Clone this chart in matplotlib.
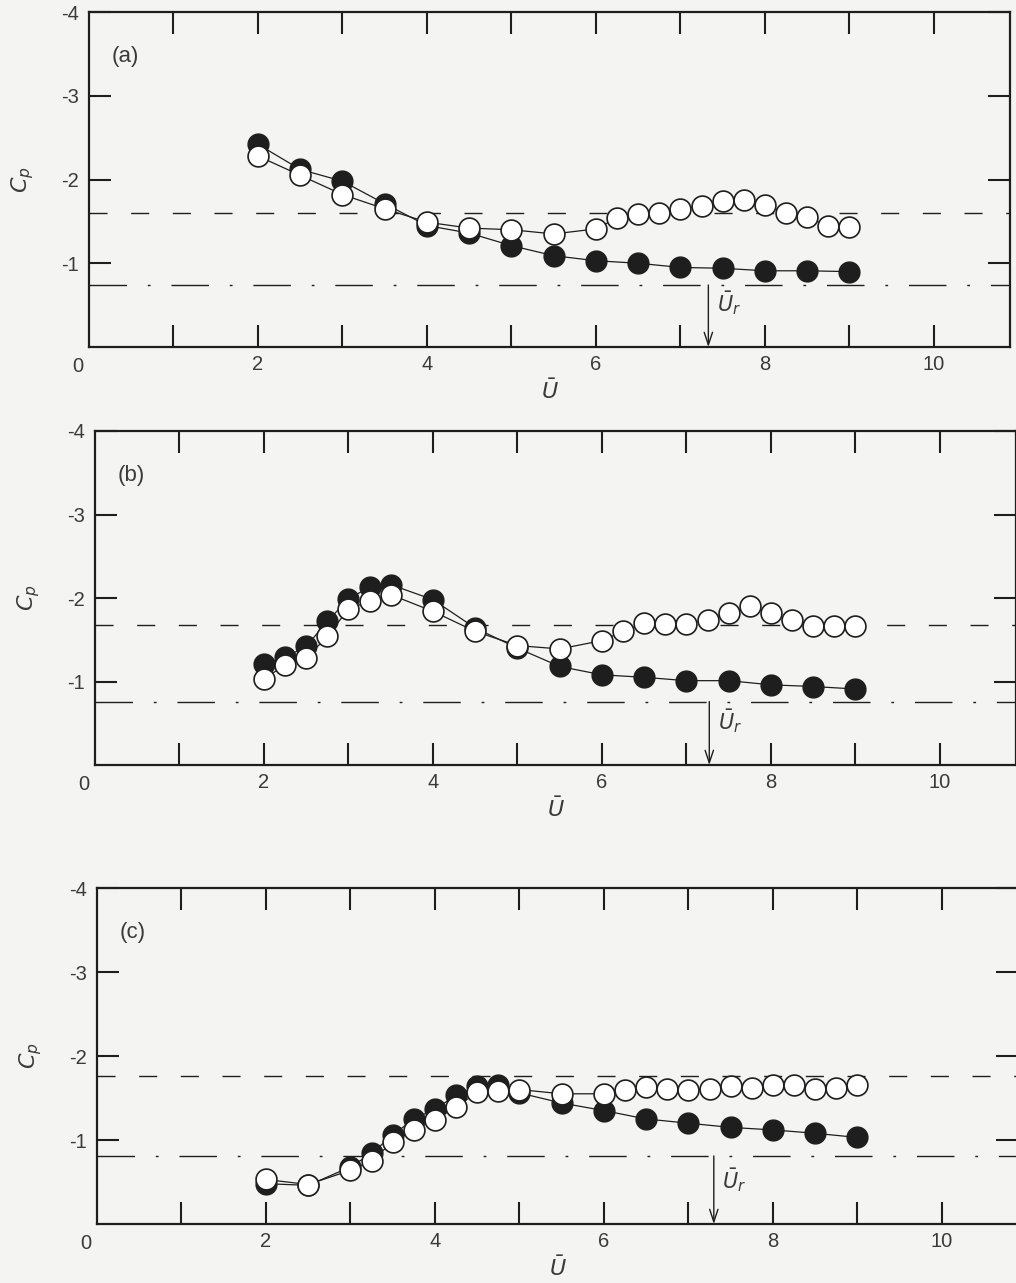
import matplotlib
matplotlib.use('Agg')
import matplotlib.pyplot as plt
from matplotlib.ticker import FixedLocator, FixedFormatter

plt.rcParams['font.family'] = ['Liberation Sans', 'DejaVu Sans']
plt.rcParams['mathtext.fontset'] = 'dejavusans'
plt.rcParams['lines.scale_dashes'] = False
plt.rcParams['axes.unicode_minus'] = False

# ---------------- data ----------------
panel_labels = ['(a)', '(b)', '(c)']

a_filled_x = [2.0, 2.5, 3.0, 3.5, 4.0, 4.5, 5.0, 5.5, 6.0, 6.5, 7.0, 7.5, 8.0, 8.5, 9.0]
a_filled_cp = [-2.42, -2.12, -1.98, -1.71, -1.45, -1.36, -1.21, -1.09, -1.03, -1.00, -0.95, -0.94, -0.91, -0.91, -0.90]
a_open_x = [2.0, 2.5, 3.0, 3.5, 4.0, 4.5, 5.0, 5.5, 6.0, 6.25, 6.5, 6.75, 7.0, 7.25, 7.5, 7.75, 8.0, 8.25, 8.5, 8.75, 9.0]
a_open_cp = [-2.28, -2.05, -1.82, -1.65, -1.49, -1.42, -1.40, -1.35, -1.41, -1.54, -1.59, -1.60, -1.65, -1.68, -1.74, -1.75, -1.70, -1.60, -1.55, -1.44, -1.43]

b_filled_x = [2.0, 2.25, 2.5, 2.75, 3.0, 3.25, 3.5, 4.0, 4.5, 5.0, 5.5, 6.0, 6.5, 7.0, 7.5, 8.0, 8.5, 9.0]
b_filled_cp = [-1.21, -1.29, -1.42, -1.72, -1.99, -2.13, -2.16, -1.98, -1.64, -1.40, -1.18, -1.08, -1.05, -1.01, -1.01, -0.96, -0.94, -0.91]
b_open_x = [2.0, 2.25, 2.5, 2.75, 3.0, 3.25, 3.5, 4.0, 4.5, 5.0, 5.5, 6.0, 6.25, 6.5, 6.75, 7.0, 7.25, 7.5, 7.75, 8.0, 8.25, 8.5, 8.75, 9.0]
b_open_cp = [-1.03, -1.20, -1.28, -1.54, -1.87, -1.96, -2.04, -1.84, -1.60, -1.43, -1.39, -1.49, -1.60, -1.70, -1.69, -1.69, -1.74, -1.82, -1.90, -1.82, -1.74, -1.67, -1.67, -1.66]

c_filled_x = [2.0, 2.5, 3.0, 3.25, 3.5, 3.75, 4.0, 4.25, 4.5, 4.75, 5.0, 5.5, 6.0, 6.5, 7.0, 7.5, 8.0, 8.5, 9.0]
c_filled_cp = [-0.48, -0.46, -0.68, -0.84, -1.06, -1.25, -1.37, -1.53, -1.64, -1.65, -1.56, -1.44, -1.35, -1.25, -1.20, -1.15, -1.12, -1.08, -1.03]
c_open_x = [2.0, 2.5, 3.0, 3.25, 3.5, 3.75, 4.0, 4.25, 4.5, 4.75, 5.0, 5.5, 6.0, 6.25, 6.5, 6.75, 7.0, 7.25, 7.5, 7.75, 8.0, 8.25, 8.5, 8.75, 9.0]
c_open_cp = [-0.53, -0.47, -0.64, -0.75, -0.98, -1.12, -1.24, -1.39, -1.57, -1.58, -1.60, -1.55, -1.55, -1.59, -1.63, -1.61, -1.60, -1.61, -1.64, -1.62, -1.65, -1.65, -1.61, -1.62, -1.65]

filled_x = [a_filled_x, b_filled_x, c_filled_x]
filled_cp = [a_filled_cp, b_filled_cp, c_filled_cp]
open_x = [a_open_x, b_open_x, c_open_x]
open_cp = [a_open_cp, b_open_cp, c_open_cp]

ref_dashed = [-1.60, -1.68, -1.76]
ref_dashdot = [-0.74, -0.76, -0.81]
u_r = [7.33, 7.27, 7.30]

x_ticks = [1, 2, 3, 4, 5, 6, 7, 8, 9, 10]
x_tick_labels = ['', '2', '', '4', '', '6', '', '8', '', '10']
y_ticks = [-1, -2, -3, -4]
y_tick_labels = ['-1', '-2', '-3', '-4']

# ---------------- layout ----------------
W, H = 1016, 1283
bg = '#f4f4f2'
ink = '#1e1e1e'
txt = '#3a3a3a'

fig = plt.figure(figsize=(W / 100, H / 100), dpi=100, facecolor=bg)

# (left_px, top_px, bottom_px)
boxes = [(89, 12, 347), (95, 431, 765), (97, 888, 1224)]
width_px = 921

for i, (lp, tp, bp) in enumerate(boxes):
    ax = fig.add_axes([lp / W, 1 - bp / H, width_px / W, (bp - tp) / H])
    ax.set_facecolor(bg)
    ax.set_xlim(0, 10.9)
    ax.set_ylim(0, -4)

    for s in ax.spines.values():
        s.set_linewidth(1.6)
        s.set_color(ink)

    ax.xaxis.set_major_locator(FixedLocator(x_ticks))
    ax.xaxis.set_major_formatter(FixedFormatter(x_tick_labels))
    ax.yaxis.set_major_locator(FixedLocator(y_ticks))
    ax.yaxis.set_major_formatter(FixedFormatter(y_tick_labels))
    ax.tick_params(axis='both', direction='in', length=16, width=1.5,
                   color=ink, labelcolor=txt, labelsize=14.5,
                   top=True, right=True)
    ax.tick_params(axis='x', pad=6)
    ax.tick_params(axis='y', pad=7)

    ax.set_xlabel(r'$\bar{U}$', fontsize=16, color=txt, labelpad=4)
    ax.set_ylabel(r'$C_p$', fontsize=16, color=txt, labelpad=18)

    ax.annotate('0', xy=(0, 0), xycoords='axes fraction', xytext=(-8, -14),
                textcoords='offset points', ha='center', va='center',
                fontsize=14.5, color=txt)

    ax.text(0.27, -3.47, panel_labels[i], fontsize=16, color=txt,
            ha='left', va='center')

    # reference lines
    ax.axhline(ref_dashed[i], color=ink, lw=1.0, linestyle=(0, (13, 17)), zorder=1)
    ax.axhline(ref_dashdot[i], color=ink, lw=1.0,
               linestyle=(0, (27, 15, 2, 15)), zorder=1)

    # resonance arrow
    ax.annotate('', xy=(u_r[i], 0), xytext=(u_r[i], ref_dashdot[i]),
                arrowprops=dict(arrowstyle='->,head_length=0.9,head_width=0.3',
                                lw=1.0, color=ink, shrinkA=0, shrinkB=0))
    ax.text(u_r[i] + 0.1, -0.52, r'$\bar{U}_r$', fontsize=15, color=txt,
            ha='left', va='center')

    # data
    ax.plot(filled_x[i], filled_cp[i], '-', color=ink, lw=0.9,
            marker='o', markersize=15, markerfacecolor=ink,
            markeredgecolor=ink, markeredgewidth=1.0, zorder=3)
    ax.plot(open_x[i], open_cp[i], '-', color=ink, lw=0.9,
            marker='o', markersize=15, markerfacecolor='white',
            markeredgecolor=ink, markeredgewidth=1.2, zorder=4)

fig.savefig('out.png', dpi=100, facecolor=bg)
